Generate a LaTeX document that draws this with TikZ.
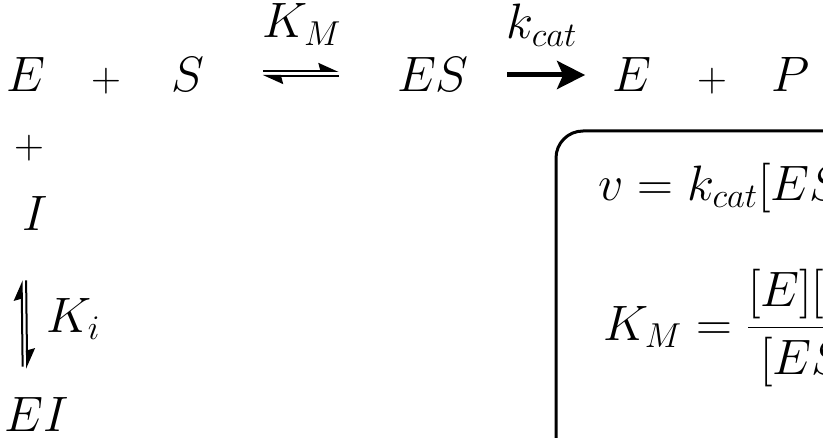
\documentclass[tikz,border=0pt]{standalone}
\usetikzlibrary{arrows.meta,positioning,calc}

\tikzset{
  chem/.style={inner sep=0pt,anchor=base,font=\fontsize{24}{29}\selectfont},
  plus/.style={inner sep=0pt,font=\fontsize{21}{25}\selectfont},
  harp/.style={line width=1pt,-{Stealth[left,length=9pt,width=8pt,inset=1pt]}},
  catarrow/.style={line width=2.5pt,-{Stealth[length=14pt,width=14pt,inset=3pt]}}
}

\begin{document}
\begin{tikzpicture}[x=0.5pt,y=-0.5pt]
    \useasboundingbox (0,0) rectangle (823,438);
    \clip (0,0) rectangle (823,438);
    % top row
    \node[chem] (E) at (26,92) {$E$};
    \node[plus] (p1) at (106,81) {$+$};
    \node[chem] (S) at (188,92) {$S$};
    \node[chem] (ES) at (433,92) {$ES$};
    \node[chem] (E2) at (632,92) {$E$};
    \node[plus] (p2) at (712,81) {$+$};
    \node[chem] (P) at (791,92) {$P$};
    \node[chem] (KM) at (302,38) {$K_M$};
    \node[chem] (kcat) at (542,39) {$k_{cat}$};
    % inhibitor column
    \node[plus] (p3) at (29,148) {$+$};
    \node[chem] (I) at (35,230) {$I$};
    \node[chem] (EI) at (37,431) {$EI$};
    \node[chem,anchor=base west] (Ki) at (46,332) {$K_i$};
    % rate box
    \draw[line width=1.5pt,rounded corners=13.5pt] (556,131) rectangle (1000,600);
    \node[chem,anchor=base west] (rate) at (598,200) {$v = k_{cat}[ES]$};
    \node[chem,anchor=base west] (KMdef) at (603,340) {$K_M = \displaystyle\frac{[E][S]}{[ES]}$};
    \draw[harp,shorten <=29pt,shorten >=29pt] ([yshift=2pt]S.east) -- ([yshift=2pt]ES.west);
    \draw[harp,shorten <=29pt,shorten >=29pt] ([yshift=-0.5pt]ES.west) -- ([yshift=-0.5pt]S.east);
    \draw[catarrow,shorten <=19pt,shorten >=13.5pt] (ES.east) -- (E2.west);
    \draw[harp,shorten <=15pt,shorten >=25pt] ([xshift=-7pt]EI.north) -- ([xshift=-7pt]I.south);
    \draw[harp,shorten <=25pt,shorten >=14pt] ([xshift=-4.75pt]I.south) -- ([xshift=-4.75pt]EI.north);
\end{tikzpicture}
\end{document}
